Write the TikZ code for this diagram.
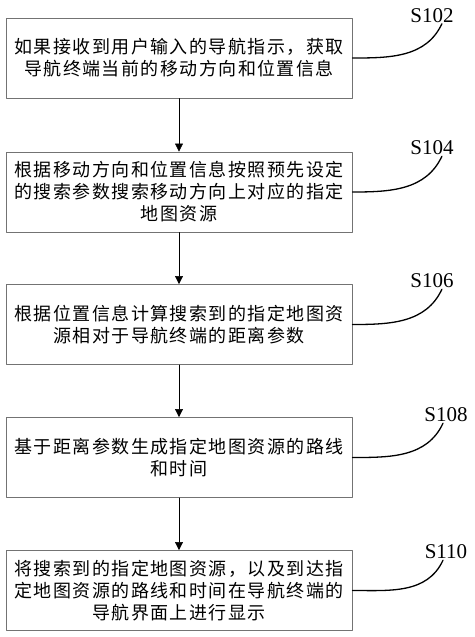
\documentclass[tikz,border=0pt]{standalone}
\usepackage{fontspec}
\newfontfamily\cjk{Noto Sans CJK SC}[LetterSpace=8]
\newfontfamily\snum{Liberation Serif}
\usetikzlibrary{arrows.meta}
\definecolor{boxgray}{rgb}{0.45,0.45,0.45}

\begin{document}
\begin{tikzpicture}[line cap=round,line join=round,x=1pt,y=-1pt,
    box/.style={draw=boxgray,line width=0.9pt,minimum width=346pt,minimum height=80pt,
        inner sep=0pt,align=center,font=\cjk\fontsize{18}{22}\selectfont},
    lab/.style={inner sep=1pt,font=\snum\fontsize{21}{21}\selectfont},
    flow/.style={-{Triangle[length=8pt,width=8pt]},line width=0.6pt},
    hook/.style={line width=1.3pt}]

    \useasboundingbox (0,0) rectangle (474,637);

    % steps
    \node[box] (b1) at (179,58) {如果接收到用户输入的导航指示，获取\\导航终端当前的移动方向和位置信息};
    \node[box] (b2) at (179,192) {根据移动方向和位置信息按照预先设定\\的搜索参数搜索移动方向上对应的指定\\地图资源};
    \node[box] (b3) at (179,324.5) {根据位置信息计算搜索到的指定地图资\\源相对于导航终端的距离参数};
    \node[box] (b4) at (179,457.5) {基于距离参数生成指定地图资源的路线\\和时间};
    \node[box] (b5) at (179,590.5) {将搜索到的指定地图资源，以及到达指\\定地图资源的路线和时间在导航终端的\\导航界面上进行显示};

    \draw[flow] (b1) -- (b2);
    \draw[flow] (b2) -- (b3);
    \draw[flow] (b3) -- (b4);
    \draw[flow] (b4) -- (b5);

    % step numbers
    \node[lab] (l1) at (432,15.5) {S102};
    \node[lab] (l2) at (432,148) {S104};
    \node[lab] (l3) at (432,281) {S106};
    \node[lab] (l4) at (446,415) {S108};
    \node[lab] (l5) at (446,552) {S110};

    \draw[hook] (b1.east) to[out=0,in=-115] (l1.-40);
    \draw[hook] (b2.east) to[out=0,in=-115] (l2.-40);
    \draw[hook] (b3.east) to[out=0,in=-115] (l3.-40);
    \draw[hook] (b4.east) to[out=0,in=-115] (l4.-110);
    \draw[hook] (b5.east) to[out=0,in=-115] (l5.-110);
\end{tikzpicture}
\end{document}
